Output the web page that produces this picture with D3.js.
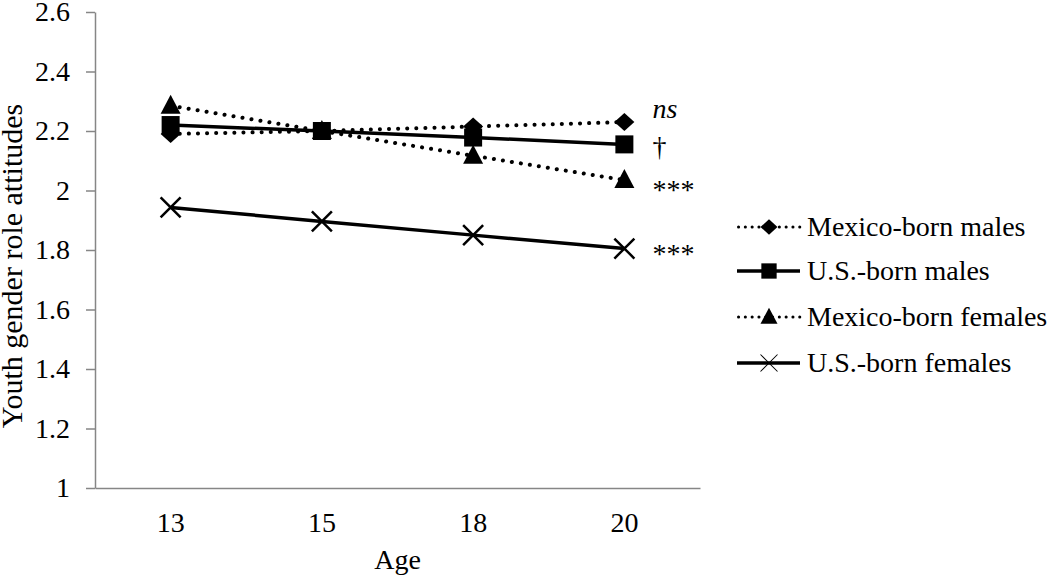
<!DOCTYPE html>
<html>
<head>
<meta charset="utf-8">
<script src="https://cdn.jsdelivr.net/npm/d3@7"></script>
<style>
  body { margin: 0; background: #fff; }
  svg text { font-family: "Liberation Serif", "Times New Roman", serif; fill: #000; }
</style>
</head>
<body>
<div id="chart"></div>
<script>
// data
var ages = ["13", "15", "18", "20"];
var yTicks = [1, 1.2, 1.4, 1.6, 1.8, 2, 2.2, 2.4, 2.6];
var mexicoMales = [2.19, 2.20, 2.215, 2.23];
var usMales = [2.22, 2.20, 2.178, 2.155];
var mexicoFemales = [2.285, 2.20, 2.117, 2.035];
var usFemales = [1.943, 1.896, 1.85, 1.805];
var seriesNames = ["Mexico-born males", "U.S.-born males", "Mexico-born females", "U.S.-born females"];
var sigLabels = ["ns", "\u2020", "***", "***"];

var series = [
    {name: seriesNames[0], values: mexicoMales, dotted: true, marker: "diamond", sig: sigLabels[0], sigDy: -4, italic: true},
    {name: seriesNames[1], values: usMales, dotted: false, marker: "square", sig: sigLabels[1], sigDy: 12},
    {name: seriesNames[2], values: mexicoFemales, dotted: true, marker: "triangle", sig: sigLabels[2], sigDy: 19},
    {name: seriesNames[3], values: usFemales, dotted: false, marker: "cross", sig: sigLabels[3], sigDy: 14}
];

const margin = {top: 12, right: 350, bottom: 89, left: 95};
const width = 1050 - margin.left - margin.right;
const height = 577 - margin.top - margin.bottom;
const fontSize = "28px";
const axisGrey = "#868686";

var svg = d3.select("#chart")
    .append("svg")
        .attr("width", 1050)
        .attr("height", 577)
    .append("g")
        .attr("transform", `translate(${margin.left}, ${margin.top})`);

//scales
var xScale = d3.scaleBand()
    .domain(ages)
    .range([0, width]);

var yScale = d3.scaleLinear()
    .domain([1, 2.6])
    .range([height, 0]);

//y axis
var yAxis = svg.append("g")
    .call(d3.axisLeft(yScale).tickValues(yTicks).tickFormat(d3.format("~g")).tickSize(9).tickPadding(16).tickSizeOuter(0));
yAxis.attr("font-family", null).attr("font-size", null);
yAxis.select(".domain").attr("stroke", axisGrey).attr("stroke-width", 1.5);
yAxis.selectAll(".tick line").attr("stroke", axisGrey).attr("stroke-width", 1.5);
yAxis.selectAll(".tick text").style("font-size", fontSize);

//x axis
var xAxis = svg.append("g")
    .attr("transform", "translate(0," + height + ")")
    .call(d3.axisBottom(xScale).tickSize(0).tickPadding(24).tickSizeOuter(0));
xAxis.attr("font-family", null).attr("font-size", null);
xAxis.select(".domain").attr("stroke", axisGrey).attr("stroke-width", 1.5);
xAxis.selectAll(".tick text").style("font-size", fontSize);

// axis titles
svg.append("text")
    .attr("x", width / 2)
    .attr("y", height + 81)
    .attr("text-anchor", "middle")
    .style("font-size", fontSize)
    .text("Age");

svg.append("text")
    .attr("x", -254)
    .attr("y", -73)
    .attr("transform", "rotate(-90)")
    .attr("text-anchor", "middle")
    .style("font-size", "30px")
    .text("Youth gender role attitudes");

function cx(i) { return xScale(ages[i]) + xScale.bandwidth() / 2; }

function drawMarker(g, type, x, y, thin) {
    if (type === "diamond") {
        g.append("path")
            .attr("d", `M${x},${y - 9}L${x + 10},${y}L${x},${y + 9}L${x - 10},${y}Z`)
            .attr("fill", "#000");
    } else if (type === "square") {
        g.append("rect")
            .attr("x", x - 9).attr("y", y - 9)
            .attr("width", 18).attr("height", 18)
            .attr("fill", "#000");
    } else if (type === "triangle") {
        g.append("path")
            .attr("d", `M${x},${y - 11}L${x + 10},${y + 8}L${x - 10},${y + 8}Z`)
            .attr("fill", "#000");
    } else {
        g.append("path")
            .attr("d", `M${x - 10},${y - 10}L${x + 10},${y + 10}M${x + 10},${y - 10}L${x - 10},${y + 10}`)
            .attr("stroke", "#000")
            .attr("stroke-width", thin ? 1.2 : 2.5);
    }
}

var line = d3.line()
    .x((d, i) => cx(i))
    .y(d => yScale(d));

series.forEach(function(s) {
    var g = svg.append("g");
    g.append("path")
        .datum(s.values)
        .attr("fill", "none")
        .attr("stroke", "#000")
        .attr("stroke-width", s.dotted ? 4 : 3.5)
        .attr("stroke-linecap", s.dotted ? "round" : "butt")
        .attr("stroke-dasharray", s.dotted ? "0.1 9" : null)
        .attr("d", line);
    s.values.forEach(function(v, i) {
        drawMarker(g, s.marker, cx(i), yScale(v), false);
    });
});

// significance labels next to last point
series.forEach(function(s) {
    var last = s.values[s.values.length - 1];
    svg.append("text")
        .attr("x", cx(3) + 28)
        .attr("y", yScale(last) + s.sigDy)
        .style("font-size", fontSize)
        .style("font-style", s.italic ? "italic" : null)
        .text(s.sig);
});

// legend
var legendRows = [227, 271, 317, 363];
var legend = svg.append("g")
    .attr("transform", `translate(${737 - margin.left}, ${-margin.top})`);

series.forEach(function(s, k) {
    var row = legend.append("g").attr("transform", `translate(0, ${legendRows[k]})`);
    row.append("line")
        .attr("x1", s.dotted ? 1.5 : 0).attr("x2", 63)
        .attr("y1", 0).attr("y2", 0)
        .attr("stroke", "#000")
        .attr("stroke-width", s.dotted ? 3 : 3.5)
        .attr("stroke-linecap", s.dotted ? "round" : "butt")
        .attr("stroke-dasharray", s.dotted ? "0.1 6.7" : null);
    var mg = row.append("g").attr("transform", "translate(32,0) scale(0.85)");
    drawMarker(mg, s.marker, 0, 0, true);
    row.append("text")
        .attr("x", 70)
        .attr("y", 9)
        .style("font-size", fontSize)
        .text(s.name);
});
</script>
</body>
</html>
